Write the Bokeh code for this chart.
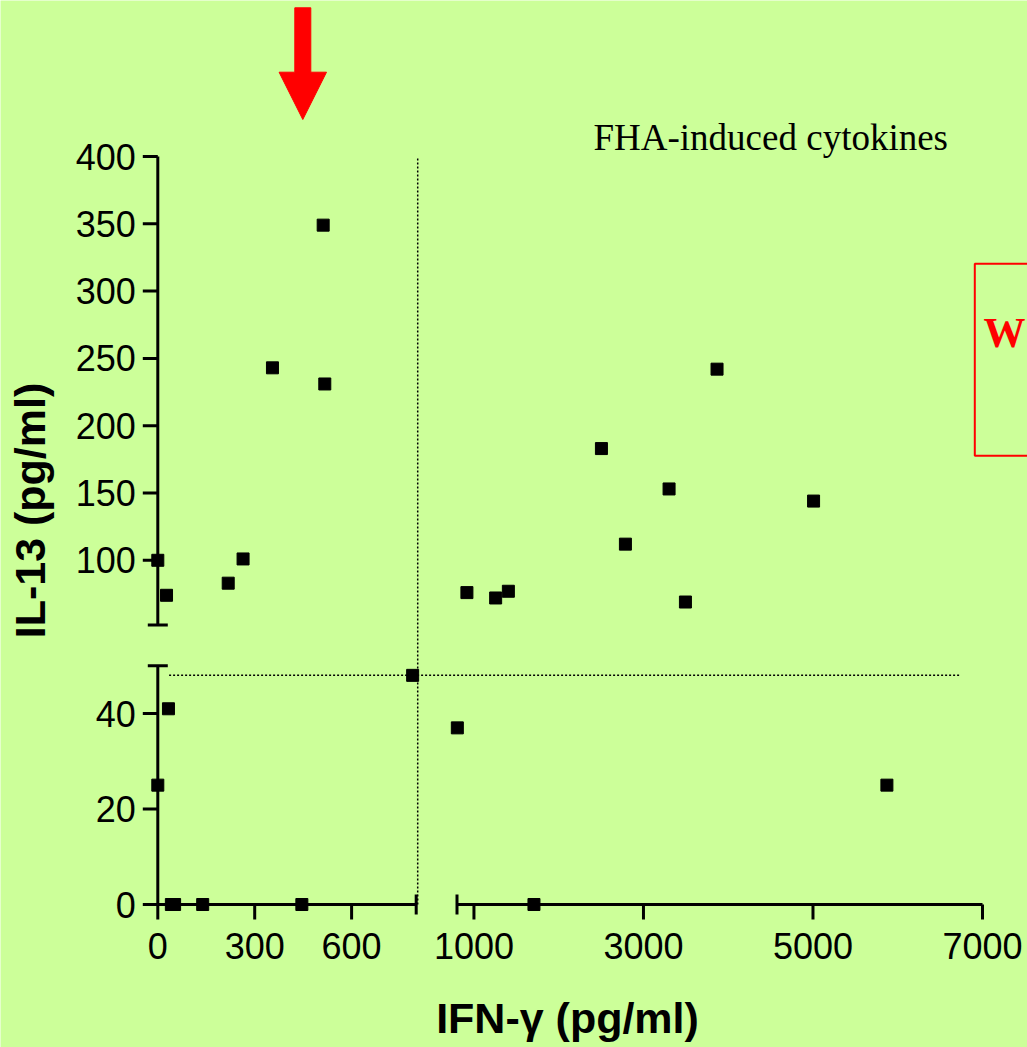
import math

from bokeh.plotting import figure
from bokeh.models import Range1d, ColumnDataSource
from bokeh.core.properties import value
from bokeh.embed import file_html
from bokeh.resources import INLINE

# FHA-induced cytokine responses, one point per subject (pg/ml)
ifn_gamma = [512, 355, 517, 0, 264, 218, 27,
             789, 33, 0, 42, 52, 139, 446,
             3868, 2504, 3302, 5007, 2787, 917, 1256, 1406, 3495,
             804, 5872, 1708]
il13 = [349, 243, 231, 100, 101, 83, 74,
        48, 41, 25, 0, 0, 0, 0,
        242, 183, 153, 144, 112, 76, 72, 77, 69,
        37, 25, 0]

# tick values of the two pieces of each broken axis
x_ticks_low = [0, 300, 600]
x_ticks_high = [1000, 3000, 5000, 7000]
y_ticks_low = [0, 20, 40]
y_ticks_high = [100, 150, 200, 250, 300, 350, 400]

# cut-off lines (pg/ml)
ifn_cutoff = 800
il13_cutoff = 48
il13_cutoff_x_span = [35, 6730]

# ---- broken-axis geometry: value ranges and their screen spans ----
X_LOW, X_HIGH = (0, 800), (800, 7000)
Y_LOW, Y_HIGH = (0, 50), (52, 400)
X_LOW_PX, X_HIGH_PX = (157.3, 415.7), (456.5, 982.0)
Y_LOW_PX, Y_HIGH_PX = (904.0, 665.3), (624.4, 156.0)

W, H = 1027, 1047
BG = "#CCFF99"
TICK = 15
CAP = 10
AXIS_W = 3


def lin(v, dom, rng):
    return rng[0] + (v - dom[0]) * (rng[1] - rng[0]) / (dom[1] - dom[0])


def sx(v):
    return lin(v, X_LOW, X_LOW_PX) if v <= X_LOW[1] else lin(v, X_HIGH, X_HIGH_PX)


def sy(v):
    return lin(v, Y_LOW, Y_LOW_PX) if v <= Y_LOW[1] else lin(v, Y_HIGH, Y_HIGH_PX)


def label(x, y, text, font="Liberation Sans", size="36px", style="normal",
          color="black", align="center", angle=0.0):
    p.text(x=[x], y=[y], text=[text], angle=angle,
           text_font=value(font), text_font_size=size, text_font_style=style,
           text_color=color, text_align=align, text_baseline="middle")


p = figure(width=W, height=H, x_range=Range1d(0, W), y_range=Range1d(H, 0),
           x_axis_location=None, y_axis_location=None,
           toolbar_location=None, output_backend="svg", min_border=0,
           background_fill_color=BG, border_fill_color=BG, outline_line_color=None)
p.xgrid.visible = False
p.ygrid.visible = False

X0 = sx(0)
Y0 = sy(0)

# cut-off lines
p.segment(x0=[sx(ifn_cutoff) + 1.5], y0=[sy(0)], x1=[sx(ifn_cutoff) + 1.5], y1=[sy(Y_HIGH[1])],
          line_color="black", line_width=1.5, line_dash="2 2")
p.segment(x0=[sx(il13_cutoff_x_span[0])], y0=[sy(il13_cutoff)],
          x1=[sx(il13_cutoff_x_span[1])], y1=[sy(il13_cutoff)],
          line_color="black", line_width=1.5, line_dash="2 2")

# axis pieces
ax0 = [X0, X0, X_LOW_PX[0], X_HIGH_PX[0]]
ay0 = [Y_LOW_PX[0], Y_HIGH_PX[0], Y0, Y0]
ax1 = [X0, X0, X_LOW_PX[1], X_HIGH_PX[1]]
ay1 = [Y_LOW_PX[1], Y_HIGH_PX[1], Y0, Y0]
p.segment(x0=ax0, y0=ay0, x1=ax1, y1=ay1, line_color="black", line_width=AXIS_W)

# break caps
p.segment(x0=[X0 - CAP, X0 - CAP], y0=[Y_LOW_PX[1], Y_HIGH_PX[0]],
          x1=[X0 + CAP, X0 + CAP], y1=[Y_LOW_PX[1], Y_HIGH_PX[0]],
          line_color="black", line_width=AXIS_W)
p.segment(x0=[X_LOW_PX[1], X_HIGH_PX[0]], y0=[Y0 - CAP, Y0 - CAP],
          x1=[X_LOW_PX[1], X_HIGH_PX[0]], y1=[Y0 + CAP, Y0 + CAP],
          line_color="black", line_width=AXIS_W)

# ticks
yt = y_ticks_low + y_ticks_high
ypos = [sy(v) for v in yt]
p.segment(x0=[X0 - TICK] * len(yt), y0=ypos, x1=[X0] * len(yt), y1=ypos,
          line_color="black", line_width=AXIS_W)
xt = x_ticks_low + x_ticks_high
xpos = [sx(v) for v in xt]
p.segment(x0=xpos, y0=[Y0] * len(xt), x1=xpos, y1=[Y0 + TICK] * len(xt),
          line_color="black", line_width=AXIS_W)

# tick labels
p.text(x=[X0 - TICK - 7] * len(yt), y=ypos, text=[str(v) for v in yt],
       text_font=value("Liberation Sans"), text_font_size="36px",
       text_align="right", text_baseline="middle", text_color="black")
p.text(x=xpos, y=[Y0 + TICK + 26] * len(xt), text=[str(v) for v in xt],
       text_font=value("Liberation Sans"), text_font_size="36px",
       text_align="center", text_baseline="middle", text_color="black")

# data points
src = ColumnDataSource(dict(x=[sx(v) for v in ifn_gamma], y=[sy(v) for v in il13]))
p.scatter("x", "y", source=src, marker="square", size=12,
          fill_color="black", line_color="black")

# axis titles
label(29, 510, "IL-13 (pg/ml)", size="43px", style="bold", angle=math.pi / 2)
label(567, 1017, "IFN-\u03b3 (pg/ml)", size="43px", style="bold")

# panel title
label(593, 137, "FHA-induced cytokines", font="Liberation Serif", size="37px",
      align="left")

# red pointer arrow above the low-IFN group
ax, shaft_hw, head_hw = 302.3, 8.0, 23.7
top, neck, tip = 7.3, 71.7, 119.0
p.patch(x=[ax - shaft_hw, ax + shaft_hw, ax + shaft_hw, ax + head_hw, ax, ax - head_hw, ax - shaft_hw],
        y=[top, top, neck, neck, tip, neck, neck],
        fill_color="#FF0000", line_color="#FF0000", line_width=1)

# red callout box at the right edge
p.quad(left=[974.3], right=[1060], top=[263.3], bottom=[455.3],
       fill_color=None, line_color="#FF0000", line_width=2)
label(983, 332, "W", font="Liberation Serif", size="42px", style="bold",
      color="#FF0000", align="left")

open("out.html", "w").write(file_html(p, INLINE))
